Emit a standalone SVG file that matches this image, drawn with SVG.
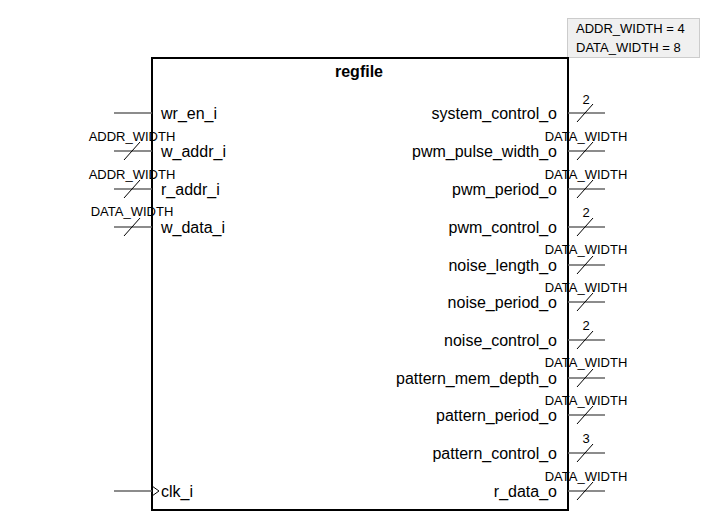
<svg xmlns="http://www.w3.org/2000/svg" width="718" height="529" viewBox="0 0 718 529">
<defs>
<style>
.pn{font-family:"Liberation Sans",Arial,sans-serif;font-size:16px;fill:#000}
.pr{text-anchor:end}
.w{font-family:"Liberation Sans",Arial,sans-serif;font-size:13px;fill:#000;text-anchor:middle}
.wire{stroke:#666;stroke-width:1.5;fill:none}
.sl{stroke:#000;stroke-width:1;fill:none}
</style>
<path id="sl" d="M-8,9 L8,-9" class="sl"/>
</defs>
<rect width="718" height="529" fill="#fff"/>
<g id="params">
<rect x="567.5" y="18.5" width="132" height="39" fill="#f0f0f0" stroke="#ccc"/>
<text x="576" y="33" style="font-family:'Liberation Sans',Arial,sans-serif;font-size:13px">ADDR_WIDTH = 4</text>
<text x="576" y="52" style="font-family:'Liberation Sans',Arial,sans-serif;font-size:13px">DATA_WIDTH = 8</text>
</g>
<g id="regfile">
<rect x="152" y="58" width="416" height="452" fill="#fff" stroke="#000" stroke-width="2"/>
<text x="359" y="77" text-anchor="middle" style="font-family:'Liberation Sans',Arial,sans-serif;font-size:16px;font-weight:bold">regfile</text>
<path d="M152,486 L159,491 L152,496" fill="none" stroke="#000" stroke-width="1"/>
<text class="pn" x="161" y="119">wr_en_i</text>
<text class="pn" x="161" y="157">w_addr_i</text>
<text class="pn" x="161" y="195">r_addr_i</text>
<text class="pn" x="161" y="233">w_data_i</text>
<text class="pn" x="161" y="497">clk_i</text>
<text class="pn pr" x="557" y="119">system_control_o</text>
<text class="pn pr" x="557" y="157">pwm_pulse_width_o</text>
<text class="pn pr" x="557" y="195">pwm_period_o</text>
<text class="pn pr" x="557" y="233">pwm_control_o</text>
<text class="pn pr" x="557" y="271">noise_length_o</text>
<text class="pn pr" x="557" y="308">noise_period_o</text>
<text class="pn pr" x="557" y="346">noise_control_o</text>
<text class="pn pr" x="557" y="384">pattern_mem_depth_o</text>
<text class="pn pr" x="557" y="421">pattern_period_o</text>
<text class="pn pr" x="557" y="459">pattern_control_o</text>
<text class="pn pr" x="557" y="497">r_data_o</text>
</g>
<g id="connectors">
<line class="wire" x1="114" y1="113" x2="152" y2="113"/>
<line class="wire" x1="114" y1="151" x2="152" y2="151"/>
<line class="wire" x1="114" y1="189" x2="152" y2="189"/>
<line class="wire" x1="114" y1="227" x2="152" y2="227"/>
<line class="wire" x1="114" y1="491" x2="152" y2="491"/>
<use href="#sl" x="132" y="151"/>
<use href="#sl" x="132" y="189"/>
<use href="#sl" x="132" y="227"/>
<line class="wire" x1="568" y1="113" x2="605" y2="113"/>
<line class="wire" x1="568" y1="151" x2="605" y2="151"/>
<line class="wire" x1="568" y1="189" x2="605" y2="189"/>
<line class="wire" x1="568" y1="227" x2="605" y2="227"/>
<line class="wire" x1="568" y1="265" x2="605" y2="265"/>
<line class="wire" x1="568" y1="302" x2="605" y2="302"/>
<line class="wire" x1="568" y1="340" x2="605" y2="340"/>
<line class="wire" x1="568" y1="378" x2="605" y2="378"/>
<line class="wire" x1="568" y1="415" x2="605" y2="415"/>
<line class="wire" x1="568" y1="453" x2="605" y2="453"/>
<line class="wire" x1="568" y1="491" x2="605" y2="491"/>
<use href="#sl" x="585" y="113"/>
<use href="#sl" x="585" y="151"/>
<use href="#sl" x="585" y="189"/>
<use href="#sl" x="585" y="227"/>
<use href="#sl" x="585" y="265"/>
<use href="#sl" x="585" y="302"/>
<use href="#sl" x="585" y="340"/>
<use href="#sl" x="585" y="378"/>
<use href="#sl" x="585" y="415"/>
<use href="#sl" x="585" y="453"/>
<use href="#sl" x="585" y="491"/>
<text class="w" x="132" y="141">ADDR_WIDTH</text>
<text class="w" x="132" y="179">ADDR_WIDTH</text>
<text class="w" x="132" y="216">DATA_WIDTH</text>
<text class="w" x="586" y="104">2</text>
<text class="w" x="586" y="141">DATA_WIDTH</text>
<text class="w" x="586" y="179">DATA_WIDTH</text>
<text class="w" x="586" y="217">2</text>
<text class="w" x="586" y="254">DATA_WIDTH</text>
<text class="w" x="586" y="292">DATA_WIDTH</text>
<text class="w" x="586" y="330">2</text>
<text class="w" x="586" y="367">DATA_WIDTH</text>
<text class="w" x="586" y="405">DATA_WIDTH</text>
<text class="w" x="586" y="443">3</text>
<text class="w" x="586" y="481">DATA_WIDTH</text>
</g>
</svg>
